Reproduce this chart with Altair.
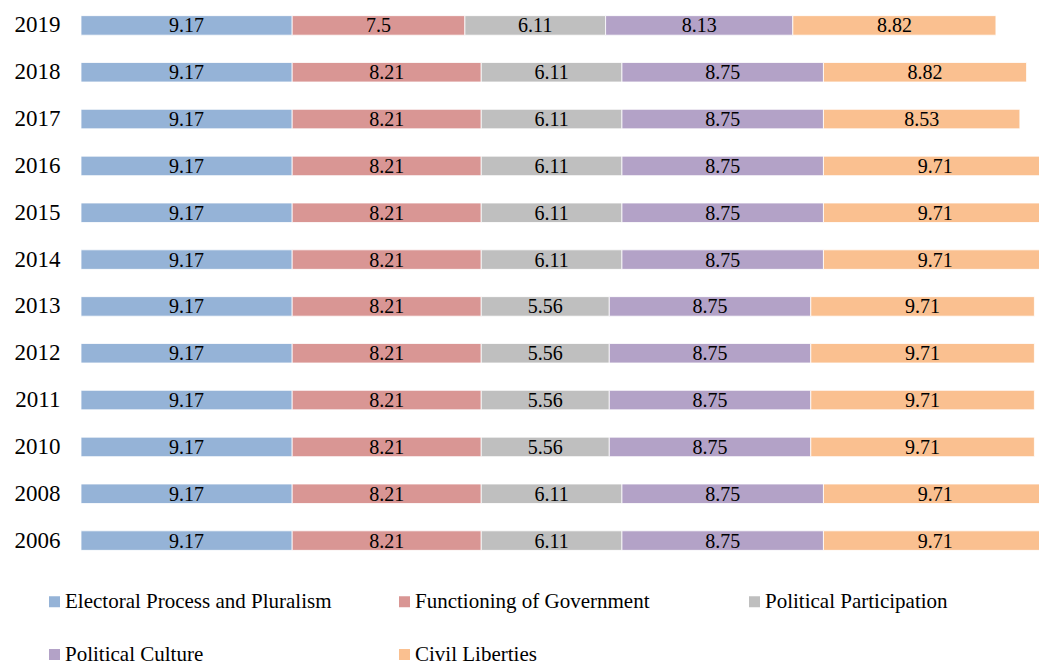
import altair as alt
import pandas as pd

years = ["2019", "2018", "2017", "2016", "2015", "2014", "2013", "2012", "2011", "2010", "2008", "2006"]
categories = ["Electoral Process and Pluralism", "Functioning of Government",
              "Political Participation", "Political Culture", "Civil Liberties"]
colors = ["#95B3D7", "#D99694", "#BFBFBF", "#B3A2C7", "#FAC090"]

electoral = [9.17, 9.17, 9.17, 9.17, 9.17, 9.17, 9.17, 9.17, 9.17, 9.17, 9.17, 9.17]
functioning = [7.5, 8.21, 8.21, 8.21, 8.21, 8.21, 8.21, 8.21, 8.21, 8.21, 8.21, 8.21]
participation = [6.11, 6.11, 6.11, 6.11, 6.11, 6.11, 5.56, 5.56, 5.56, 5.56, 6.11, 6.11]
culture = [8.13, 8.75, 8.75, 8.75, 8.75, 8.75, 8.75, 8.75, 8.75, 8.75, 8.75, 8.75]
liberties = [8.82, 8.82, 8.53, 9.71, 9.71, 9.71, 9.71, 9.71, 9.71, 9.71, 9.71, 9.71]

series = [electoral, functioning, participation, culture, liberties]

FONT = "Liberation Serif, Times New Roman, serif"

rows = []
for yi, yr in enumerate(years):
    start = 0.0
    for ci, cat in enumerate(categories):
        v = series[ci][yi]
        rows.append({"year": yr, "category": cat, "value": v, "order": ci,
                     "start": start, "end": start + v, "mid": start + v / 2,
                     "label": f"{v:g}"})
        start += v
df = pd.DataFrame(rows)

xscale = alt.Scale(domain=[0, 41.6], nice=False, zero=True)
yscale = alt.Scale(domain=years, paddingInner=0.583, paddingOuter=0.2915)

base = alt.Chart(df)

bars = base.mark_bar(clip=True, stroke="white", strokeWidth=0.8, cornerRadius=0).encode(
    x=alt.X("start:Q", scale=xscale, axis=None),
    x2="end:Q",
    y=alt.Y("year:N", scale=yscale, sort=years,
            axis=alt.Axis(title=None, domain=False, ticks=False, grid=False, labelFont=FONT,
                          labelFontSize=23, labelColor="black", labelPadding=21)),
    color=alt.Color("category:N", scale=alt.Scale(domain=categories, range=colors),
                    legend=alt.Legend(title=None, orient="none", legendX=-37, legendY=589,
                                      direction="horizontal", columns=3, gridAlign="all",
                                      columnPadding=62, rowPadding=31,
                                      symbolType="square", symbolSize=121, symbolStrokeWidth=0,
                                      labelFont=FONT, labelFontSize=21,
                                      labelColor="black", labelOffset=0, labelLimit=0)),
    order=alt.Order("order:Q"),
)

texts = base.mark_text(clip=True, font=FONT, fontSize=20, color="black",
                       baseline="middle", dy=1).encode(
    x=alt.X("mid:Q", scale=xscale),
    y=alt.Y("year:N", scale=yscale, sort=years),
    text="label:N",
)

chart = (bars + texts).properties(
    width=958, height=562,
    background="white",
    autosize=alt.AutoSizeParams(type="none"),
    padding={"left": 81, "top": 2, "right": 0, "bottom": 100},
).configure_view(stroke=None, strokeWidth=0)

chart.save("out.html", embed_options={"renderer": "svg", "actions": False})
